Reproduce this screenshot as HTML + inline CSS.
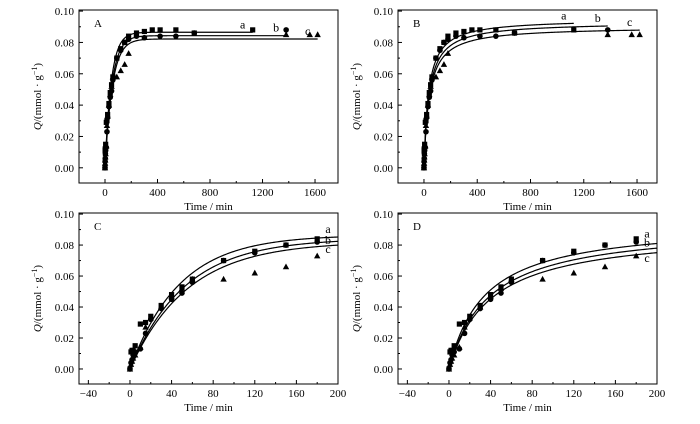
<!DOCTYPE html>
<html><head><meta charset="utf-8"><style>
html,body{margin:0;padding:0;background:#fff;}
svg{display:block;font-family:"Liberation Serif",serif;}
</style></head><body>
<svg id="c" width="700" height="424" viewBox="0 0 700 424" xmlns="http://www.w3.org/2000/svg"></svg>
<script>
// ---- data ----
const timesA = [0,1,2,3,5,10,15,20,30,40,50,60,90,120,150,180,240,300,360,420,540,680,1125];
const valsA  = [0,0.011,0.012,0.012,0.015,0.029,0.030,0.034,0.041,0.048,0.053,0.058,0.070,0.076,0.080,0.084,0.086,0.087,0.088,0.088,0.088,0.086,0.088];
const timesB = [0,1,2,3,5,10,15,20,30,40,50,60,90,120,150,180,240,300,420,540,680,1380];
const valsB  = [0,0.004,0.006,0.009,0.011,0.013,0.023,0.032,0.039,0.045,0.049,0.056,0.070,0.075,0.080,0.082,0.084,0.083,0.084,0.084,0.086,0.088];
const timesC = [0,1,2,3,5,10,15,20,30,40,50,60,90,120,150,180,1380,1560,1620];
const valsC  = [0,0.003,0.005,0.007,0.009,0.014,0.027,0.033,0.040,0.047,0.052,0.058,0.058,0.062,0.066,0.073,0.085,0.085,0.085];
// fit parameters: pseudo-first-order (A,C) and pseudo-second-order (B,D)
const pfoQe = [0.0865,0.0843,0.0822];
const pfoK  = [0.021,0.019,0.018];
const psoQe = [0.095,0.093,0.090];
const psoK  = [0.305,0.28,0.28];
const fitEnds = [1125,1380,1620];
const seriesNames = ['a','b','c'];
const labelPosC = [0.0877,0.0806,0.0748];
const labelPosD = [0.0850,0.0790,0.0690];
const yTicks = [0,0.02,0.04,0.06,0.08,0.10];
const xTicksLong = [0,400,800,1200,1600];
const xTicksShort = [-40,0,40,80,120,160,200];

const NS='http://www.w3.org/2000/svg';
const svg=document.getElementById('c');
function el(tag,attrs,parent){const e=document.createElementNS(NS,tag);for(const k in attrs)e.setAttribute(k,attrs[k]);(parent||svg).appendChild(e);return e;}

const panels=[
 {id:'A',L:79,R:338,T:10,B:183,x0:-198,x1:1775,long:true,model:'pfo'},
 {id:'B',L:398,R:657,T:10,B:183,x0:-195,x1:1750,long:true,model:'pso'},
 {id:'C',L:79,R:338,T:213,B:384,x0:-49,x1:200,long:false,model:'pfo'},
 {id:'D',L:398,R:657,T:213,B:384,x0:-49,x1:200,long:false,model:'pso'}
];
const allSeries=[[timesA,valsA],[timesB,valsB],[timesC,valsC]];

panels.forEach(p=>{
  const g=el('g',{});
  
  
  const y0v=-0.0097, y1v=0.1007;
  const sx=v=>p.L+(v-p.x0)/(p.x1-p.x0)*(p.R-p.L);
  const sy=v=>p.B-(v-y0v)/(y1v-y0v)*(p.B-p.T);
  const fr=el('rect',{x:p.L,y:p.T,width:p.R-p.L,height:p.B-p.T,fill:'none',stroke:'#000','stroke-width':1},g);
  
  
  yTicks.forEach((t,i)=>{
    const y=sy(t);
    el('line',{x1:p.L,x2:p.L+4,y1:y,y2:y,stroke:'#000'},g);
    if(i<yTicks.length-1){const ym=sy(t+0.01);el('line',{x1:p.L,x2:p.L+2,y1:ym,y2:ym,stroke:'#000'},g);}
    const tx=el('text',{x:p.L-5,y:y+4,'text-anchor':'end','font-size':11},g);
    tx.textContent=t.toFixed(2);
    
    
  });
  const xt=p.long?xTicksLong:xTicksShort;
  const step=xt[1]-xt[0];
  xt.forEach(t=>{
    const x=sx(t);
    el('line',{x1:x,x2:x,y1:p.B,y2:p.B-4,stroke:'#000'},g);
    const m=sx(t+step/2); if(m<p.R) el('line',{x1:m,x2:m,y1:p.B,y2:p.B-2,stroke:'#000'},g);
    const mb=sx(t-step/2); if(t===xt[0]&&mb>p.L) el('line',{x1:mb,x2:mb,y1:p.B,y2:p.B-2,stroke:'#000'},g);
    const tx=el('text',{x:x,y:p.B+13,'text-anchor':'middle','font-size':11},g);
    tx.textContent=t<0?'\u2212'+(-t):String(t);
    
    
  });
  const xl=el('text',{x:(p.L+p.R)/2,y:p.B+27,'text-anchor':'middle','font-size':11,'font-weight':'normal'},g);
  xl.textContent='Time / min';
  
  
  const yl=el('text',{x:0,y:0,'text-anchor':'middle','font-size':11,transform:`translate(${p.L-38},${(p.T+p.B)/2}) rotate(-90)`},g);
  yl.innerHTML='<tspan font-style="italic">Q</tspan>/(mmol · g<tspan baseline-shift="super" font-size="8">−1</tspan>)';
  
  
  const pl=el('text',{x:p.L+15,y:p.T+17,'font-size':11},g);
  pl.textContent=p.id;
  
  
  for(let s=0;s<3;s++){
    const tEnd=p.long?fitEnds[s]:200;
    let d='';
    const n=200;
    for(let i=0;i<=n;i++){
      const t=tEnd*i/n;
      let q;
      if(p.model==='pfo') q=pfoQe[s]*(1-Math.exp(-pfoK[s]*t));
      else {const x=psoQe[s]*psoK[s]*t; q=psoQe[s]*x/(1+x);}
      d+=(i?'L':'M')+sx(t).toFixed(2)+','+sy(q).toFixed(2);
    }
    const path=el('path',{d:d,fill:'none',stroke:'#000','stroke-width':1.2},g);
    
    
    let lx,ly;
    if(p.long){lx=sx(tEnd)-10; const qq=p.model==='pfo'?pfoQe[s]:psoQe[s]*psoQe[s]*psoK[s]*tEnd/(1+psoQe[s]*psoK[s]*tEnd); ly=sy(qq)-4;}
    else {lx=p.R-10; ly=sy(p.model==='pfo'?labelPosC[s]:labelPosD[s]);}
    const lb=el('text',{x:lx,y:ly,'font-size':12,'text-anchor':'middle'},g);
    lb.textContent=seriesNames[s];
    
    
  }
  for(let s=0;s<3;s++){
    const [ts,vs]=allSeries[s];
    ts.forEach((t,i)=>{
      if(t>p.x1) return;
      const x=sx(t),y=sy(vs[i]);
      let m;
      if(s===0) m=el('rect',{x:x-2.6,y:y-2.6,width:5.2,height:5.2,fill:'#000'},g);
      else if(s===1) m=el('circle',{cx:x,cy:y,r:2.8,fill:'#000'},g);
      else m=el('polygon',{points:`${x},${y-3.3} ${x-3.2},${y+2.5} ${x+3.2},${y+2.5}`,fill:'#000'},g);
      
      
    });
  }
});
</script>
</body></html>
